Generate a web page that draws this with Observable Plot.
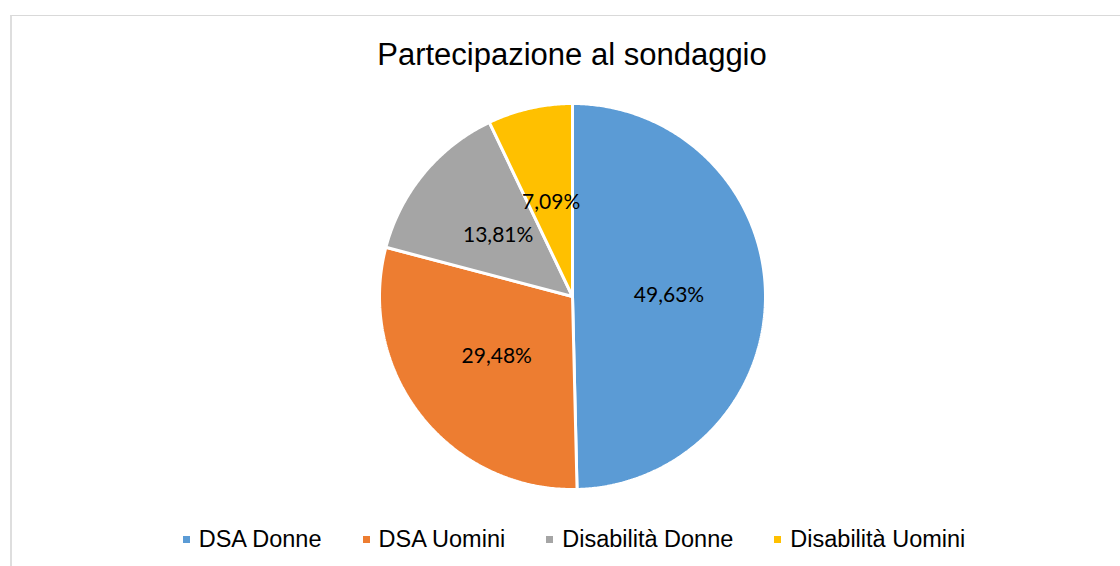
<!DOCTYPE html>
<html>
<head>
<meta charset="utf-8">
<script src="https://cdn.jsdelivr.net/npm/d3@7"></script>
<script src="https://cdn.jsdelivr.net/npm/@observablehq/plot@0.6"></script>
<style>
  html, body { margin: 0; padding: 0; background: #fff; }
  #wrap { position: relative; width: 1120px; height: 566px; overflow: hidden; background: #fff; }
  #frame { position: absolute; left: 10px; top: 15px; width: 1200px; height: 700px;
           border-top: 1px solid #d9d9d9; border-left: 2px solid #dedede; box-sizing: border-box; }
  #title { position: absolute; left: 0; top: 37px; width: 1144px; text-align: center;
           font-family: "Liberation Sans", Arial, sans-serif; font-size: 31px; line-height: 36px; color: #000; }
  #chart { position: absolute; left: 0; top: 96px; }
  #legend { position: absolute; left: 0; top: 526px; width: 1148px; display: flex; justify-content: center;
            font-family: "Liberation Sans", Arial, sans-serif; font-size: 23.5px; line-height: 26px; color: #000; }
  .item { display: flex; align-items: center; margin: 0 20.5px; }
  .sw { width: 7px; height: 7px; margin-right: 9px; position: relative; top: 0px; }
</style>
</head>
<body>
<div id="wrap">
  <div id="frame"></div>
  <div id="title"></div>
  <div id="chart"></div>
  <div id="legend"></div>
</div>
<script>
const title = "Partecipazione al sondaggio";
const categories = ["DSA Donne", "DSA Uomini", "Disabilità Donne", "Disabilità Uomini"];
const values = [49.63, 29.48, 13.81, 7.09];
const colors = ["#5B9BD5", "#ED7D31", "#A5A5A5", "#FFC000"];

document.getElementById("title").textContent = title;

const W = 1120, H = 400, R = 193, CX = 572, CY = 200;
const total = d3.sum(values);

// Build slice outlines (clockwise from 12 o'clock) from the values
const rows = [];
const labels = [];
let acc = 0;
categories.forEach((cat, i) => {
  const a0 = acc / total * 2 * Math.PI;
  acc += values[i];
  const a1 = acc / total * 2 * Math.PI;
  const n = Math.max(2, Math.ceil((a1 - a0) / (Math.PI / 360)));
  rows.push({cat, x: 0, y: 0});
  for (let k = 0; k <= n; k++) {
    const a = a0 + (a1 - a0) * k / n;
    rows.push({cat, x: Math.sin(a), y: Math.cos(a)});
  }
  rows.push({cat, x: 0, y: 0});
  const am = (a0 + a1) / 2;
  labels.push({cat, x: 0.5 * Math.sin(am), y: 0.5 * Math.cos(am),
               text: values[i].toFixed(2).replace(".", ",") + "%"});
});

const plot = Plot.plot({
  width: W,
  height: H,
  margin: 0,
  x: {domain: [-CX / R, (W - CX) / R], axis: null},
  y: {domain: [-(H - CY) / R, CY / R], axis: null},
  color: {domain: categories, range: colors},
  marks: [
    Plot.line(rows, {x: "x", y: "y", z: "cat", fill: "cat", stroke: "white",
                     strokeWidth: 3, curve: "linear", strokeLinejoin: "miter"}),
    Plot.text(labels, {x: "x", y: "y", text: "text", fill: "#000",
                       fontSize: 21, fontFamily: "Lato, 'Open Sans', sans-serif"})
  ]
});
document.getElementById("chart").appendChild(plot);

const legend = document.getElementById("legend");
categories.forEach((cat, i) => {
  const item = document.createElement("div");
  item.className = "item";
  const sw = document.createElement("span");
  sw.className = "sw";
  sw.style.background = colors[i];
  const t = document.createElement("span");
  t.textContent = cat;
  item.appendChild(sw);
  item.appendChild(t);
  legend.appendChild(item);
});
</script>
</body>
</html>
